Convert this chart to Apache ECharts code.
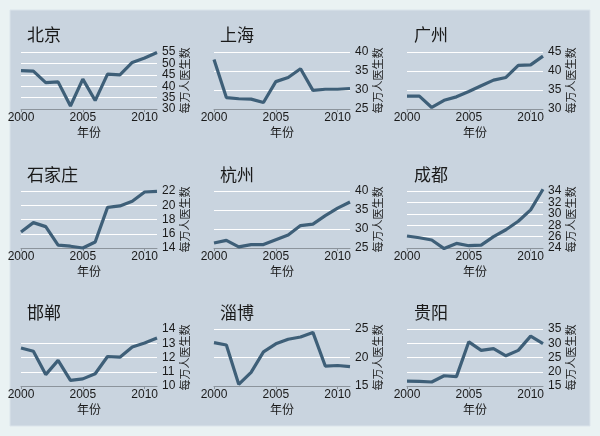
<!DOCTYPE html>
<html>
<head>
<meta charset="utf-8">
<script src="https://cdn.jsdelivr.net/npm/echarts@6/dist/echarts.min.js"></script>
<style>
html,body{margin:0;padding:0;background:#eaf2f3;}
#c{width:600px;height:436px;}
</style>
</head>
<body>
<div id="c"></div>
<script>
var years = [2000,2001,2002,2003,2004,2005,2006,2007,2008,2009,2010,2011];
var cities = ['北京','上海','广州','石家庄','杭州','成都','邯郸','淄博','贵阳'];
var beijing      = [46.8,46.6,41.6,41.9,31.3,43.1,33.7,45.3,45.0,50.4,52.4,54.8];
var shanghai     = [38.0,28.0,27.7,27.6,26.7,32.2,33.3,35.6,29.9,30.2,30.2,30.4];
var guangzhou    = [33.4,33.4,30.4,32.3,33.2,34.6,36.1,37.6,38.3,41.5,41.6,43.9];
var shijiazhuang = [16.25,17.56,17.0,14.4,14.25,14.0,14.85,19.7,19.9,20.55,21.86,21.95];
var hangzhou     = [26.3,27.0,25.3,25.9,25.9,27.2,28.4,30.9,31.3,33.5,35.5,37.1];
var chengdu      = [26.1,25.8,25.4,23.9,24.8,24.4,24.5,26.0,27.2,28.7,30.7,34.3];
var handan       = [12.67,12.44,10.8,11.8,10.4,10.5,10.86,12.07,12.02,12.74,13.02,13.37];
var zibo         = [22.6,22.2,15.3,17.4,21.0,22.4,23.2,23.6,24.4,18.5,18.6,18.4];
var guiyang      = [16.7,16.6,16.4,18.6,18.3,30.5,27.5,28.1,25.6,27.5,32.5,29.9];
var seriesData = [beijing,shanghai,guangzhou,shijiazhuang,hangzhou,chengdu,handan,zibo,guiyang];
var yMin = [30,25,30,14,25,24,10,15,15];
var yMax = [55,40,45,22,40,34,14,25,35];
var yInterval = [5,5,5,2,5,2,1,5,5];
var xTicks = [2000,2005,2010];
var yName = '每万人医生数';
var xName = '年份';

var colLeft = [21,214,407];
var rowTop = [52,191,329];
var gridW = 136, gridH = 57;
var titleLeft = [27,220,414];
var titleTop = [26,166,304];

var lineColor = '#3e5f78';
var font = 'Liberation Sans, Arial, Noto Sans CJK SC, sans-serif';
var cjk = 'Noto Sans CJK SC, sans-serif';

function parityFormatter(min, step, parity){
  return function(v){
    var idx = Math.round((v - min)/step);
    return (idx % 2 === parity) ? String(v) : '';
  };
}

var grids=[],xAxes=[],yAxes=[],series=[],titles=[];
for (var i=0;i<9;i++){
  var c=i%3, r=Math.floor(i/3);
  grids.push({left:colLeft[c],top:rowTop[r],width:gridW,height:gridH,containLabel:false});
  titles.push({text:cities[i],left:titleLeft[c],top:titleTop[r],padding:0,
    textStyle:{fontFamily:cjk,fontSize:17,fontWeight:'normal',color:'#1a1a1a'}});
  xAxes.push({type:'value',gridIndex:i,min:2000,max:2011,interval:5,
    name:xName,nameLocation:'middle',nameGap:17,
    nameTextStyle:{fontFamily:cjk,fontSize:12,color:'#1a1a1a'},
    axisLine:{show:true,lineStyle:{color:'#8c949c',width:1}},
    axisTick:{show:true,length:3,lineStyle:{color:'#8c949c'}},
    axisLabel:{fontFamily:font,fontSize:12,color:'#1a1a1a',margin:3,
      showMinLabel:true,showMaxLabel:false,
      formatter:function(v){return xTicks.indexOf(v)>=0?String(v):'';}},
    splitLine:{show:false}});
  var nt = Math.round((yMax[i]-yMin[i])/yInterval[i])+1;
  var cols=[];
  for (var k=0;k<nt;k++) cols.push('#ffffff');
  if (i===6) cols[nt-1]='rgba(0,0,0,0)';
  yAxes.push({type:'value',gridIndex:i,position:'right',min:yMin[i],max:yMax[i],interval:yInterval[i],
    name:yName,nameLocation:'middle',nameGap:22,nameRotate:90,
    nameTextStyle:{fontFamily:cjk,fontSize:11,color:'#1a1a1a'},
    axisLine:{show:false},axisTick:{show:false},
    axisLabel:{fontFamily:font,fontSize:12,color:'#1a1a1a',margin:5,
      showMinLabel:true,showMaxLabel:true,formatter:parityFormatter(yMin[i],yInterval[i],0)},
    splitLine:{show:true,lineStyle:{color:cols,width:1.2}}});
  yAxes.push({type:'value',gridIndex:i,position:'right',min:yMin[i],max:yMax[i],interval:yInterval[i],
    axisLine:{show:false},axisTick:{show:false},splitLine:{show:false},
    axisLabel:{fontFamily:font,fontSize:12,color:'#1a1a1a',margin:5,
      showMinLabel:true,showMaxLabel:true,formatter:parityFormatter(yMin[i],yInterval[i],1)}});
  series.push({type:'line',xAxisIndex:i,yAxisIndex:2*i,symbol:'none',clip:false,
    lineStyle:{color:lineColor,width:3.2},
    data:years.map(function(y,j){return [y,seriesData[i][j]];})});
}

var chart = echarts.init(document.getElementById('c'),null,{renderer:'canvas'});
chart.setOption({
  backgroundColor:'#eaf2f3',
  animation:false,
  graphic:[{type:'rect',z:-10,shape:{x:10,y:10,width:580,height:416},
    style:{fill:'#c9d4df',stroke:'#dbe4eb',lineWidth:1}}],
  title:titles,grid:grids,xAxis:xAxes,yAxis:yAxes,series:series
});
</script>
</body>
</html>
